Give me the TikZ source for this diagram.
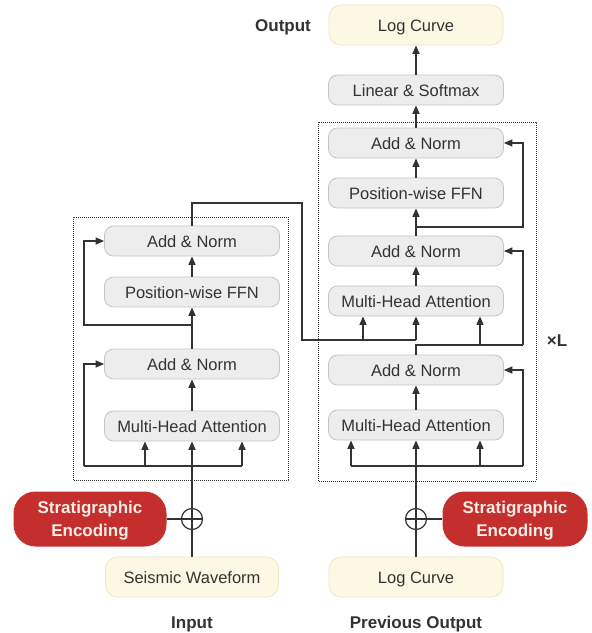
\documentclass[tikz,border=0pt]{standalone}
\usepackage{fontspec}
\setmainfont{Liberation Sans}
\usetikzlibrary{arrows.meta}
\definecolor{gfill}{HTML}{EDEDED}
\definecolor{gdraw}{HTML}{C4C4C4}
\definecolor{yfill}{HTML}{FDF8E3}
\definecolor{ydraw}{HTML}{EEE5C2}
\definecolor{rfill}{HTML}{C42F2D}
\definecolor{rtext}{HTML}{F7ECE6}
\definecolor{ink}{HTML}{333333}
\newcommand{\twolines}[2]{\raisebox{-5.5pt}{\begin{tabular}{@{}c@{}}#1\\#2\end{tabular}}}
\begin{document}
\begin{tikzpicture}[x=1pt,y=-1pt,
  gbox/.style={draw=gdraw, fill=gfill, line width=0.8pt, rounded corners=9pt,
    minimum width=175pt, minimum height=30pt, inner sep=0pt, text=ink,
    text height=12pt, text depth=0pt,
    font=\fontsize{16.5}{18}\selectfont},
  ybox/.style={draw=ydraw, fill=yfill, line width=0.8pt, rounded corners=12pt,
    minimum width=174pt, minimum height=40pt, inner sep=0pt, text=ink,
    text height=12pt, text depth=0pt,
    font=\fontsize{16.5}{18}\selectfont},
  rbox/.style={fill=rfill, draw=none, rounded corners=22pt, minimum height=55pt,
    inner sep=0pt, text=rtext, text height=0pt, text depth=0pt,
    font=\fontsize{17}{23}\selectfont\bfseries},
  plusc/.style={circle, draw=ink, line width=1.2pt, minimum size=21pt, inner sep=0pt},
  lbl/.style={text=ink, text height=12pt, text depth=0pt,
    font=\fontsize{17}{20}\selectfont\bfseries},
  conn/.style={draw=ink, line width=1.4pt},
  arr/.style={conn, -{Triangle[length=8.5pt,width=7pt]}},
  dotbox/.style={draw=ink, line width=0.9pt, dash pattern=on 0.9pt off 1.1pt}]
\useasboundingbox (0,0) rectangle (592,633);

% dotted frames
\draw[dotbox] (73,217) rectangle (288,480);
\draw[dotbox] (318,122) rectangle (536,481);

% encoder
\node[gbox] (eAN2) at (192,241) {Add \& Norm};
\node[gbox] (eFFN) at (192,292) {Position-wise FFN};
\node[gbox] (eAN1) at (192,364) {Add \& Norm};
\node[gbox] (eMHA) at (192,426) {Multi-Head Attention};
\node[plusc] (c1) at (192,519) {};
\node[rbox, minimum width=153pt] (se1) at (90,519) {\twolines{Stratigraphic}{Encoding}};
\node[ybox, minimum width=173pt] (sw) at (192,577) {Seismic Waveform};
\node[lbl] (inl) at (192,622) {Input};

% decoder
\node[ybox] (out) at (416,25) {Log Curve};
\node[gbox] (lin) at (416,90) {Linear \& Softmax};
\node[gbox] (dAN3) at (416,143) {Add \& Norm};
\node[gbox] (dFFN) at (416,193) {Position-wise FFN};
\node[gbox] (dAN2) at (416,251) {Add \& Norm};
\node[gbox] (dMHA2) at (416,301) {Multi-Head Attention};
\node[gbox] (dAN1) at (416,370) {Add \& Norm};
\node[gbox] (dMHA1) at (416,425) {Multi-Head Attention};
\node[plusc] (c2) at (416,519) {};
\node[rbox, minimum width=145pt] (se2) at (515,519) {\twolines{Stratigraphic}{Encoding}};
\node[ybox] (lc) at (416,577) {Log Curve};
\node[lbl] (prl) at (416,622) {Previous Output};
\node[lbl] (outl) at (283,25) {Output};
\node[lbl] (xl) at (557,340) {×L};

% encoder input
\draw[conn] (sw.north) -- (c1.south);
\draw[conn] (c1.south) -- (c1.north);
\draw[conn] (se1.east) -- (c1.east);
\draw[arr] (c1.north) -- (eMHA.south);
\coordinate (eL) at (84,466);
\coordinate (eM) at (145,466);
\coordinate (eR) at (242,466);
\draw[conn] (eL) -- (eR);
\draw[arr] (eM) -- (eM |- eMHA.south);
\draw[arr] (eR) -- (eR |- eMHA.south);
\draw[arr] (eL) |- (eAN1.west);
\draw[arr] (eMHA.north) -- (eAN1.south);
\draw[arr] (eAN1.north) -- (eFFN.south);
\coordinate (eJ) at (192,325);
\coordinate (eJL) at (84,325);
\draw[arr] (eJ) -- (eJL) |- (eAN2.west);
\draw[arr] (eFFN.north) -- (eAN2.south);

% encoder output to decoder
\coordinate (eT) at (192,203);
\coordinate (eTR) at (302,203);
\coordinate (eBR) at (302,340);
\coordinate (dX1) at (363,340);
\coordinate (dX2) at (416,340);
\draw[conn] (eAN2.north) -- (eT) -- (eTR) -- (eBR) -- (dX2);
\draw[arr] (dX1) -- (dX1 |- dMHA2.south);
\draw[arr] (dX2) -- (dMHA2.south);

% decoder input
\draw[conn] (lc.north) -- (c2.south);
\draw[conn] (c2.south) -- (c2.north);
\draw[conn] (se2.west) -- (c2.west);
\draw[arr] (c2.north) -- (dMHA1.south);
\coordinate (dL) at (351,466);
\coordinate (dM) at (480,466);
\coordinate (dR) at (523,466);
\draw[conn] (dL) -- (dR);
\draw[arr] (dL) -- (dL |- dMHA1.south);
\draw[arr] (dM) -- (dM |- dMHA1.south);
\draw[arr] (dR) |- (dAN1.east);
\draw[arr] (dMHA1.north) -- (dAN1.south);

\coordinate (dK) at (416,345);
\coordinate (dKM) at (480,345);
\coordinate (dKR) at (523,345);
\draw[conn] (dAN1.north) -- (dK) -- (dKR);
\draw[arr] (dKR) |- (dAN2.east);
\draw[arr] (dKM) -- (dKM |- dMHA2.south);
\draw[arr] (dMHA2.north) -- (dAN2.south);
\draw[arr] (dAN2.north) -- (dFFN.south);
\coordinate (dJ) at (416,227);
\coordinate (dJR) at (523,227);
\draw[arr] (dJ) -- (dJR) |- (dAN3.east);
\draw[arr] (dFFN.north) -- (dAN3.south);
\draw[arr] (dAN3.north) -- (lin.south);
\draw[arr] (lin.north) -- (out.south);
\end{tikzpicture}
\end{document}
